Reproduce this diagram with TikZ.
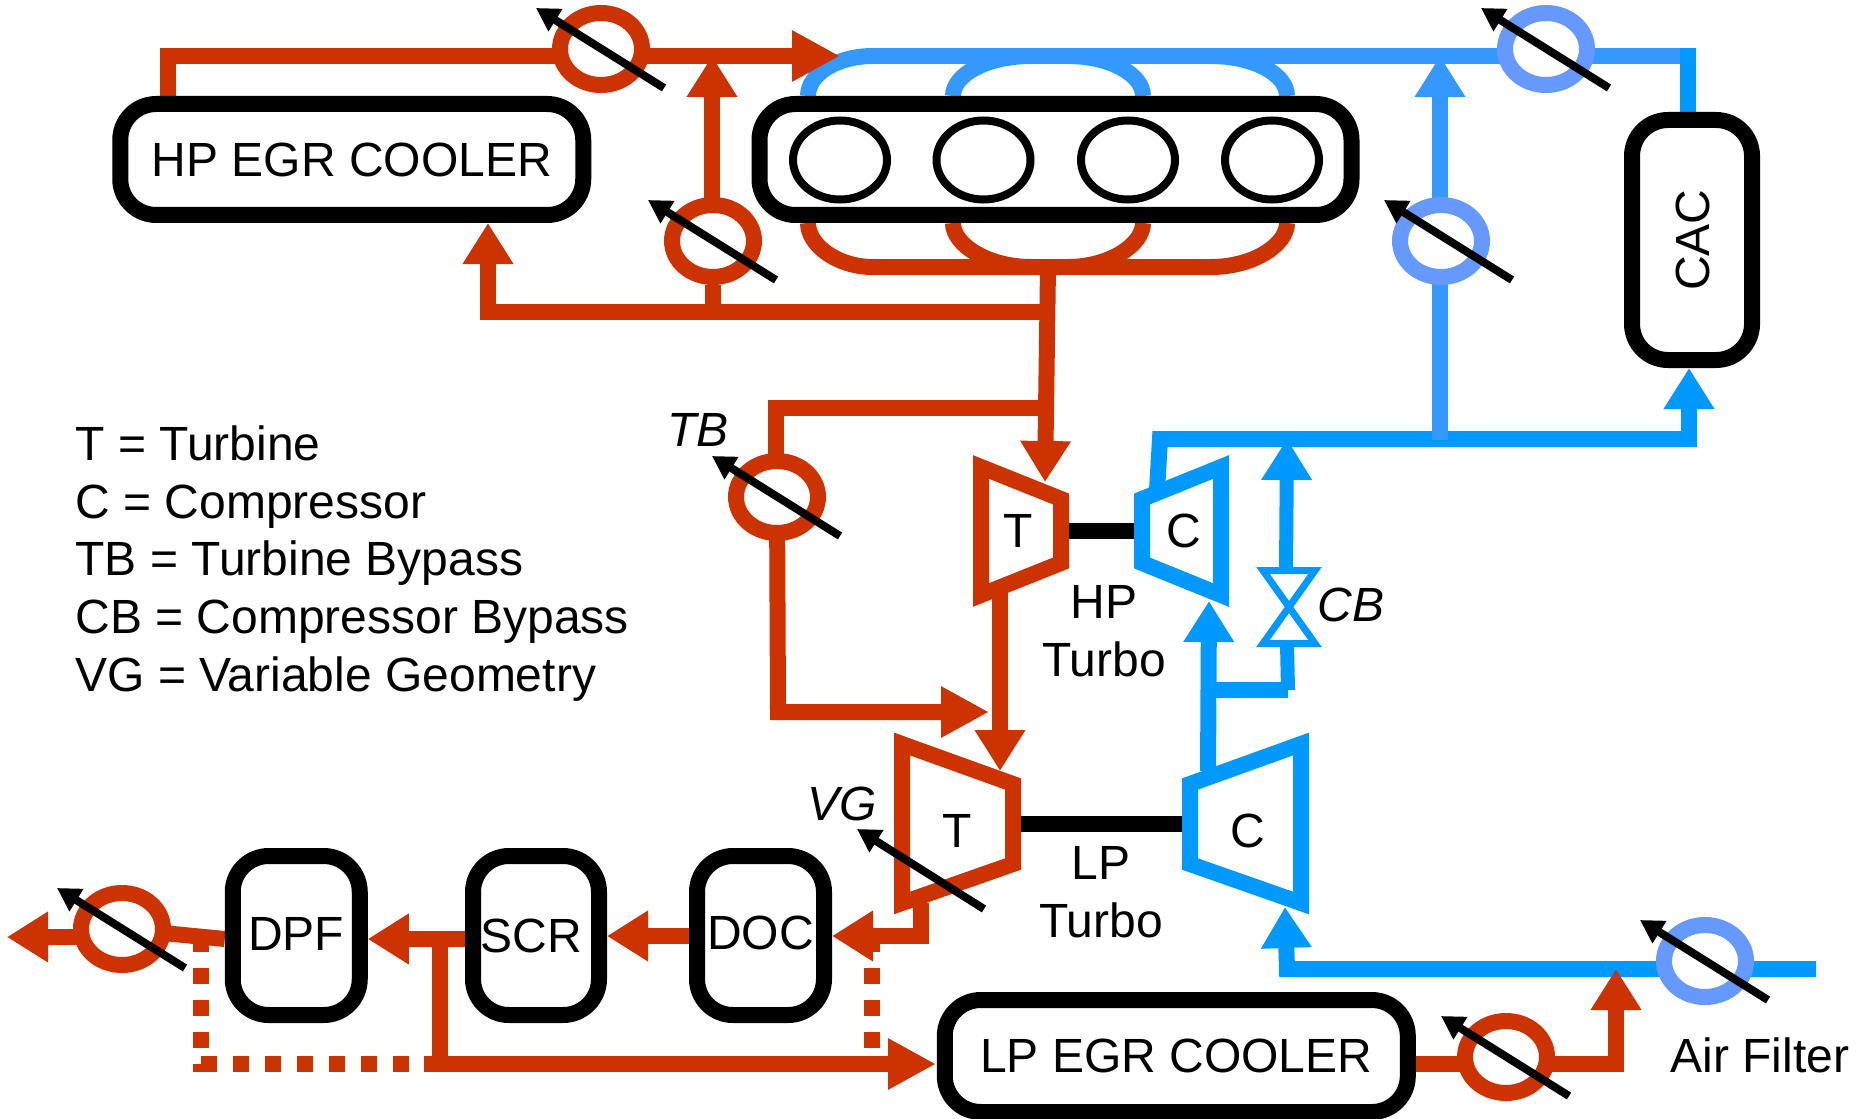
\documentclass[tikz,border=0pt]{standalone}
\usepackage{fontspec,graphicx}
\setmainfont{Liberation Sans}
\usetikzlibrary{arrows.meta,backgrounds,shapes.geometric}
\definecolor{exred}{HTML}{CC3300}
\definecolor{inblue}{HTML}{3399FF}
\definecolor{airblue}{HTML}{0099FF}
\definecolor{valblue}{HTML}{6699FF}
\tikzset{
 unit/.style={draw=black,fill=white,line width=8pt,rounded corners=18pt,inner sep=0pt},
 tagtext/.style={inner sep=0pt},
 cylinder/.style={ellipse,draw=black,line width=4pt,minimum width=47pt,minimum height=39.5pt,inner sep=0pt},
 valve/.style={ellipse,fill=white,line width=8pt,minimum width=41pt,minimum height=36pt,inner sep=0pt},
 redvalve/.style={valve,draw=exred},
 bluevalve/.style={valve,draw=valblue},
 redpipe/.style={draw=exred,line width=8pt},
 inpipe/.style={draw=inblue,line width=8pt},
 airpipe/.style={draw=airblue,line width=8pt},
 tipshort/.style={-{Triangle[length=20.5pt,width=24pt]}},
 tiplong/.style={-{Triangle[length=24pt,width=24pt]}},
 reddash/.style={redpipe,dash pattern=on 8pt off 8pt},
 rotor/.style={fill=white,line width=8pt,line join=miter},
 shaft/.style={draw=black,line width=8pt},
 tune/.style={draw=black,line width=4pt,-{Triangle[length=11.5pt,width=12.5pt]}},
}
\begin{document}
\begin{tikzpicture}[x=.5pt,y=-.5pt,font=\fontsize{24}{28.9}\selectfont]
 \useasboundingbox (0,0) rectangle (1856,1118);
 % boxes
 \node[unit,minimum width=231.5pt,minimum height=55.5pt] (hpegr) at (351.75,159.5) {\raisebox{-.7pt}{HP EGR COOLER}};
 \node[unit,minimum width=296pt,minimum height=55.5pt] (engine) at (1055.5,159.5) {};
 \node[unit,minimum width=60pt,minimum height=120pt] (cac) at (1692,240) {\hspace{1pt}\rotatebox{90}{CAC}};
 \node[unit,minimum width=231.5pt,minimum height=56pt] (lpegr) at (1176.3,1056) {LP EGR COOLER};
 \node[unit,minimum width=63.5pt,minimum height=79.5pt] (doc) at (760.5,935.5) {\raisebox{3pt}{DOC}};
 \node[unit,minimum width=63pt,minimum height=79.5pt] (scr) at (536,935.5) {\hspace{-5pt}SCR};
 \node[unit,minimum width=63.5pt,minimum height=79.5pt] (dpf) at (296.25,935.5) {\raisebox{1.5pt}{DPF}};
 \foreach \n/\x in {1/840,2/983.5,3/1128,4/1272}{
  \node[cylinder] (cyl\n) at (\x,160) {};
 }
 % valves
 \node[redvalve] (egrv) at (601,49) {};
 \node[redvalve] (egrby) at (713,241) {};
 \node[bluevalve] (thrv) at (1546,49) {};
 \node[bluevalve] (cacby) at (1441,241) {};
 \node[redvalve] (tbv) at (777,497) {};
 \node[redvalve] (exv) at (122,929) {};
 \node[redvalve] (lpv) at (1506,1057) {};
 \node[bluevalve] (airv) at (1705,961) {};
 % turbos
 \draw[rotor,draw=exred] (981,467)--(1061,499)--(1061,563)--(981,595)--cycle;
 \draw[rotor,draw=airblue] (1142,499)--(1221,467)--(1221,595)--(1142,563)--cycle;
 \draw[rotor,draw=exred] (902,744)--(1013,784)--(1013,864)--(902,903)--cycle;
 \draw[rotor,draw=airblue] (1190,784)--(1301,744)--(1301,903)--(1190,864)--cycle;
 \node[tagtext] (hpt) at (1018,531) {T};
 \node[tagtext] (hpc) at (1184,531) {C};
 \node[tagtext] (lpt) at (957,831) {T};
 \node[tagtext] (lpc) at (1248,831) {C};
 \coordinate (hpts) at (1069,531);
 \coordinate (hpcs) at (1134,531);
 \coordinate (lpts) at (1021,824);
 \coordinate (lpcs) at (1182,824);
 \draw[shaft] (hpts)--(hpcs);
 \draw[shaft] (lpts)--(lpcs);
 \node[tagtext,align=center] (hptag) at (1104,631) {HP\\Turbo};
 \node[tagtext,align=center] (lptag) at (1101,892) {LP\\Turbo};
 % crossover valve
 \coordinate (cbc) at (1289,607);
 \draw[draw=airblue,line width=3.5pt,line join=miter] (1263,570.5)--(1315,570.5)--(1263,643.5)--(1315,643.5)--cycle;
 % junctions
 \coordinate (egrcorner) at (168,56);
 \coordinate (engin) at (840,56);
 \coordinate (egrtee) at (712,56);
 \coordinate (exjoin) at (1048,267);
 \coordinate (egrjoin) at (1047,312);
 \coordinate (egrleft) at (488,312);
 \coordinate (tbjoin) at (1046,408);
 \coordinate (tbcorner) at (776,408);
 \coordinate (tbdown) at (778,712);
 \coordinate (tbin) at (989,712);
 \coordinate (hptin) at (1045,482);
 \coordinate (hptout) at (1000,590);
 \coordinate (lptin) at (1000,771);
 \coordinate (intend) at (1680,56);
 \coordinate (intcorner) at (1688,48);
 \coordinate (inttee) at (1440,56);
 \coordinate (hpcout) at (1157,490);
 \coordinate (hpccorner) at (1160,439);
 \coordinate (caccorner) at (1689,439);
 \coordinate (cbout) at (1287,439);
 \coordinate (cbtop) at (1286,570);
 \coordinate (cbbot) at (1287,644);
 \coordinate (cbjoin) at (1288,690);
 \coordinate (lpcout) at (1208,771);
 \coordinate (lpcsplit) at (1208,690);
 \coordinate (hpcin) at (1209,601);
 \coordinate (airend) at (1816,969);
 \coordinate (aircorner) at (1287,969);
 \coordinate (lpcin) at (1285,907);
 \coordinate (lpcorner) at (1616,1064);
 \coordinate (lpjoin) at (1616,969);
 \coordinate (lptout) at (921,903);
 \coordinate (lptcorner) at (921,936);
 \coordinate (scrtee) at (440,939);
 \coordinate (scrcorner) at (440,1064);
 \coordinate (dashleft) at (201,936);
 \coordinate (dashcorner) at (201,1072);
 \coordinate (dashlow) at (201,1064);
 \coordinate (dashend) at (424,1064);
 \coordinate (dashright) at (872,936);
 \coordinate (dashfoot) at (872,1048);
 \coordinate (lpin) at (936,1064);
 \coordinate (lptail) at (424,1064);
 \coordinate (exout) at (7,937);
 \begin{scope}[on background layer]
  % intake side
  \foreach \a/\c/\b in {808/837/873,953/988/1031,1143/1109/1068,1287/1253/1211}{
   \draw[inpipe] (\a,96) .. controls (\a,74) and (\c,56) .. (\b,56);
   \draw[redpipe] (\a,223) .. controls (\a,245) and (\c,267) .. (\b,267);
  }
  \draw[inpipe] (873,56)--(intend);
  \draw[airpipe] (intcorner)--(cac.north -| intcorner);
  \draw[airpipe,tipshort] (hpcout)--(hpccorner)--(caccorner)--(cac.south -| caccorner);
  \draw[inpipe,tipshort] (cacby.south -| inttee)--(inttee);
  \draw[inpipe] (1440,440)--(cacby.south -| inttee);
  \draw[airpipe,tipshort] (lpcout)--(hpcin);
  \draw[airpipe] (lpcsplit)--(cbjoin);
  \draw[airpipe,line width=7pt] (cbjoin)--(cbbot);
  \draw[airpipe,line width=7pt,tipshort] (cbtop)--(cbout);
  \draw[airpipe,tipshort] (airend)--(aircorner)--(lpcin);
  % exhaust side
  \draw[redpipe] (873,267)--(1211,267);
  \draw[redpipe,tipshort] (exjoin)--(hptin);
  \draw[redpipe,tipshort] (egrjoin)--(egrleft)--(hpegr.south -| egrleft);
  \draw[redpipe] (hpegr.north -| egrcorner)--(egrcorner)--(egrv.center |- egrcorner);
  \draw[redpipe,tiplong] (egrv.center |- egrcorner)--(engin);
  \draw[redpipe,tipshort] (egrby.center -| egrtee)--(egrtee);
  \draw[redpipe] (egrby.south)--(egrby.south |- egrleft);
  \draw[redpipe] (tbjoin)--(tbcorner)--(tbv.center -| tbcorner);
  \draw[redpipe,tiplong] (tbv.center)--(tbdown)--(tbin);
  \draw[redpipe,tipshort] (hptout)--(lptin);
  \draw[reddash] (dashright)--(dashfoot);
  \draw[reddash] (dashleft)--(dashcorner);
  \draw[reddash] (dashlow)--(dashend);
  \draw[redpipe,tipshort] (lptout)--(lptcorner)--(doc.east |- lptcorner);
  \draw[redpipe,tipshort] (doc.west |- lptcorner)--(scr.east |- lptcorner);
  \draw[redpipe,tipshort] (scr.west |- scrtee)--(dpf.east |- scrtee);
  \draw[redpipe] (dpf.west |- scrtee)--(exv.center);
  \draw[redpipe,tipshort] (exv.center |- exout)--(exout);
  \draw[redpipe] (scrtee)--(scrcorner);
  \draw[redpipe,tiplong] (lptail)--(lpin);
  \draw[redpipe,tipshort] (lpegr.east |- lpcorner)--(lpcorner)--(lpjoin);
 \end{scope}
 % actuators
 \foreach \v/\dx in {egrv/0,egrby/0,thrv/0,cacby/8,tbv/0,exv/0,lpv/0,airv/0}{
  \draw[tune] ([shift={(63+\dx,39)}]\v.center)--([shift={(-65+\dx,-41)}]\v.center);
 }
 \coordinate (vgtail) at (984,909);
 \coordinate (vgtip) at (857,829);
 \draw[tune] (vgtail)--(vgtip);
 % labels
 \node[tagtext,font=\fontsize{24}{28.9}\selectfont\itshape] (tbtag) at (698,430) {TB};
 \node[tagtext,font=\fontsize{24}{28.9}\selectfont\itshape] (cbtag) at (1351,605) {CB};
 \node[tagtext,font=\fontsize{24}{28.9}\selectfont\itshape] (vgtag) at (842,804) {VG};
 \node[tagtext] (filtertag) at (1760,1055) {Air Filter};
 \node[tagtext,anchor=west,align=left] (legend) at (75,563.5)
   {T = Turbine\\C = Compressor\\TB = Turbine Bypass\\CB = Compressor Bypass\\VG = Variable Geometry};
\end{tikzpicture}
\end{document}
